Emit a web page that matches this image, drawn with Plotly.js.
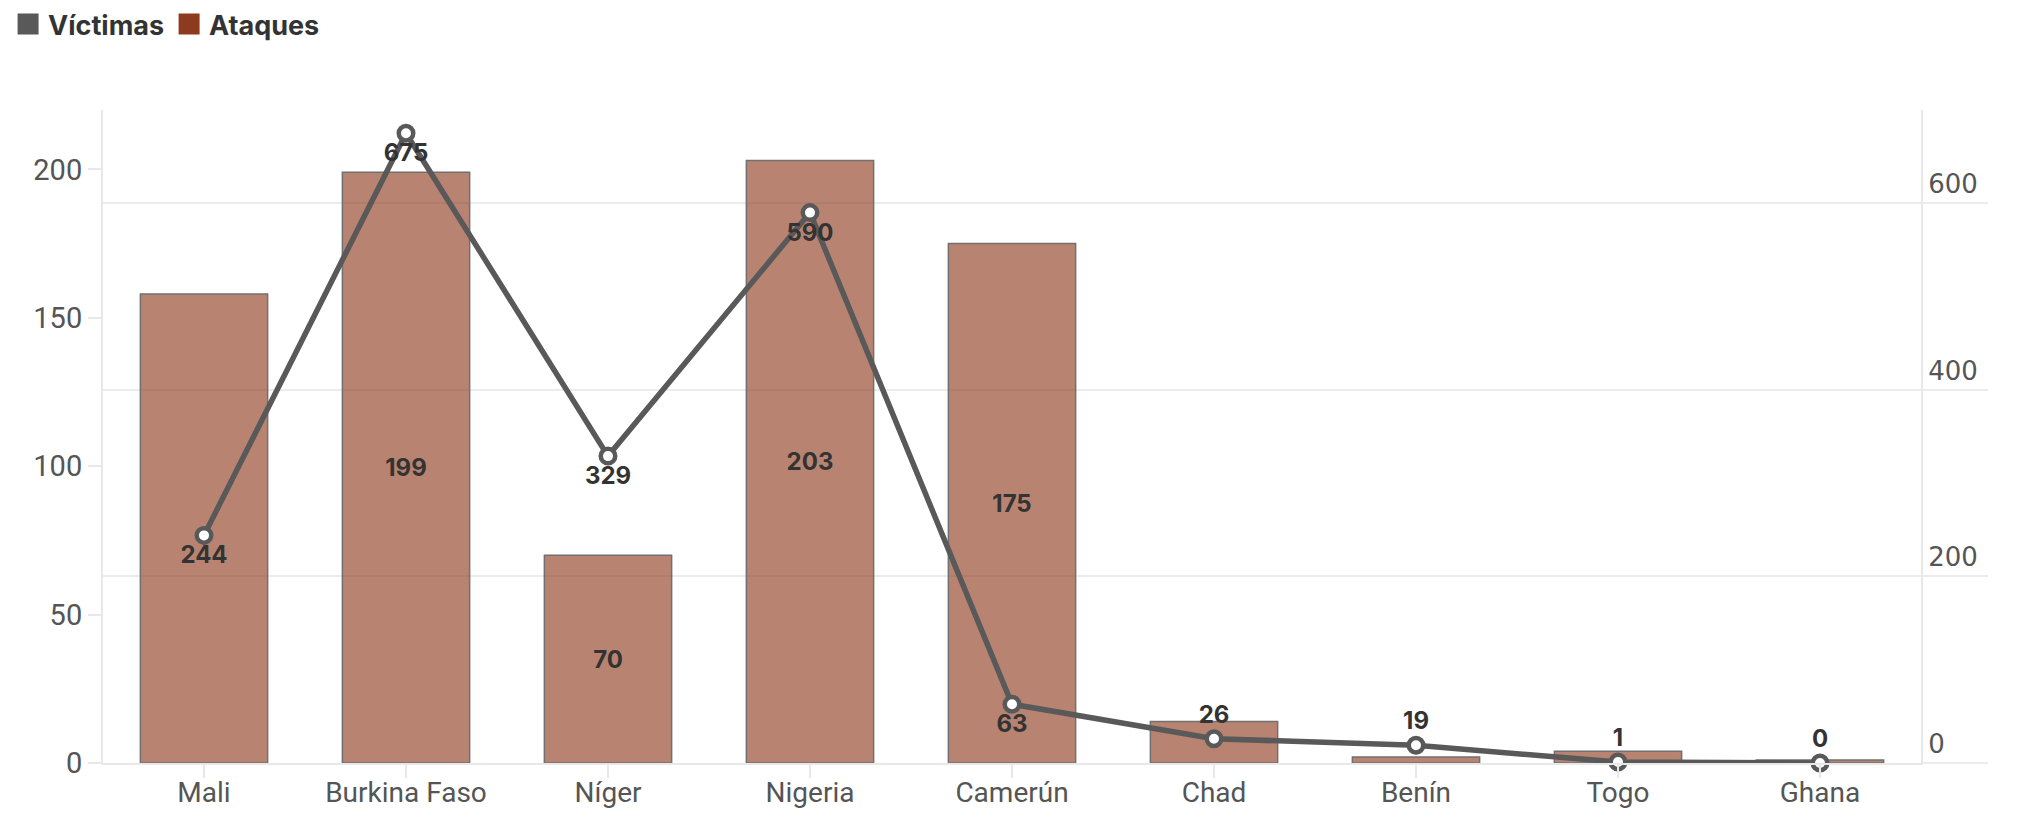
<!DOCTYPE html>
<html>
<head>
<meta charset="utf-8">
<script src="https://cdn.plot.ly/plotly-3.0.1.min.js"></script>
<style>
  html, body { margin: 0; padding: 0; background: #fff; }
  #grafico { width: 2018px; height: 834px; }
</style>
</head>
<body>
<div id="grafico"></div>
<script>
const paises = ["Mali", "Burkina Faso", "Níger", "Nigeria", "Camerún", "Chad", "Benín", "Togo", "Ghana"]
const ataques = [158, 199, 70, 203, 175, 14, 2, 4, 1]
const victimas = [244, 675, 329, 590, 63, 26, 19, 1, 0]
// etiquetas de barras visibles en el original
const mostrarAtaque = [false, true, true, true, true, false, false, false, false]
const posVictimas = ["bottom center", "bottom center", "bottom center", "bottom center", "bottom center",
  "top center", "top center", "top center", "top center"]

const gris = "#595959"
const oxido = "#8e3a1e"
const lineaEje = "#e8e8e8"

const barras = {
  type: "bar",
  name: "Ataques",
  x: paises,
  y: ataques,
  text: ataques.map((v, i) => (mostrarAtaque[i] ? String(v) : "")),
  textposition: "inside",
  insidetextanchor: "middle",
  textfont: { family: "Inter, sans-serif", size: 24, color: "#333", weight: 700 },
  width: 0.63,
  marker: { color: "rgba(142,58,30,0.63)", line: { color: "#707070", width: 1.5 } },
  showlegend: false,
  hoverinfo: "x+y",
}

const linea = {
  type: "scatter",
  mode: "lines+markers+text",
  name: "Víctimas",
  x: paises,
  y: victimas,
  yaxis: "y2",
  text: victimas.map(String),
  textposition: posVictimas,
  textfont: { family: "Inter, sans-serif", size: 24, color: "#333", weight: 700 },
  line: { color: gris, width: 5.5 },
  marker: { size: 14.5, color: "#fff", line: { color: gris, width: 4.5 } },
  cliponaxis: false,
  showlegend: false,
}

// solo leyenda
const leyendaVictimas = {
  type: "scatter", mode: "markers", name: "Víctimas", x: [null], y: [null],
  marker: { symbol: "square", size: 16, color: gris, line: { color: gris, width: 5 } }, hoverinfo: "skip",
}
const leyendaAtaques = {
  type: "scatter", mode: "markers", name: "Ataques", x: [null], y: [null],
  marker: { symbol: "square", size: 16, color: oxido, line: { color: oxido, width: 5 } }, hoverinfo: "skip",
}

const layout = {
  width: 2018,
  height: 834,
  margin: { l: 103, r: 97, t: 110, b: 71 },
  paper_bgcolor: "#fff",
  plot_bgcolor: "#fff",
  font: { family: "Roboto, sans-serif", color: "#555" },
  showlegend: true,
  legend: {
    orientation: "h",
    xref: "container", yref: "container",
    x: 0.004, y: 1, xanchor: "left", yanchor: "top",
    font: { family: "Inter, sans-serif", size: 27, color: "#333", weight: 700 },
    itemwidth: 30,
    tracegroupgap: 0,
  },
  xaxis: {
    type: "category",
    showline: true, linecolor: lineaEje, linewidth: 2,
    ticks: "outside", ticklen: 13, tickcolor: lineaEje, tickwidth: 2,
    ticklabelstandoff: -10,
    tickfont: { family: "Roboto, sans-serif", size: 28, color: "#555" },
    showgrid: false, zeroline: false,
  },
  yaxis: {
    range: [0, 220],
    dtick: 50,
    showgrid: false, zeroline: false,
    showline: true, linecolor: lineaEje, linewidth: 2,
    ticks: "outside", ticklen: 13, tickcolor: lineaEje, tickwidth: 2,
    tickfont: { family: "Roboto, sans-serif", size: 29, color: "#555" },
  },
  yaxis2: {
    overlaying: "y",
    side: "right",
    range: [0, 700],
    dtick: 200,
    showgrid: true, gridcolor: "#ececec", gridwidth: 2,
    zeroline: false,
    showline: true, linecolor: lineaEje, linewidth: 2,
    ticks: "outside", ticklen: 65, tickcolor: "#ececec", tickwidth: 2,
    ticklabelposition: "outside top",
    tickfont: { family: "DejaVu Sans, sans-serif", size: 26, color: "#555" },
  },
}

Plotly.newPlot("grafico", [barras, linea, leyendaVictimas, leyendaAtaques], layout, { displayModeBar: false })
</script>
</body>
</html>
